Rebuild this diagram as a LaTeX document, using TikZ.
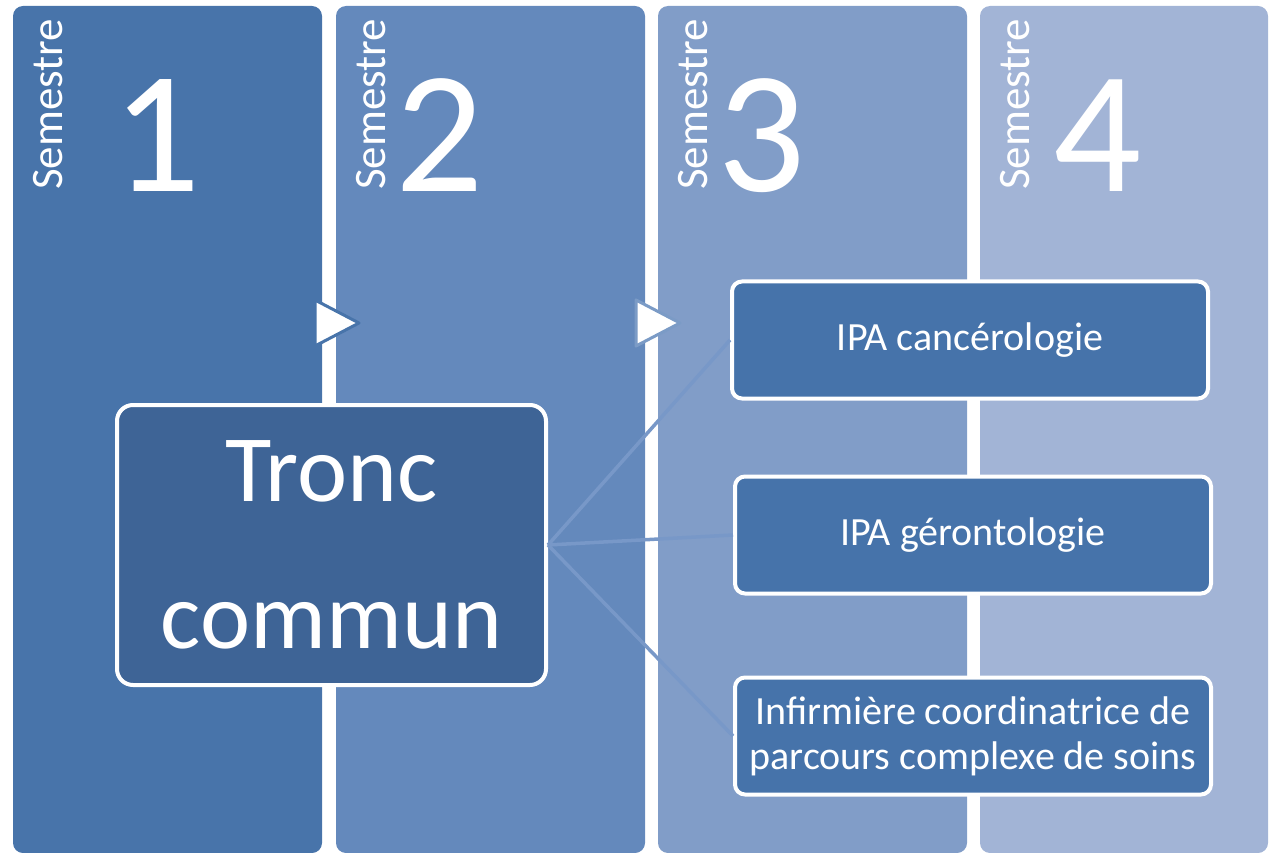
\documentclass[tikz,border=0pt]{standalone}
\usepackage{fontspec}
\setmainfont{Carlito}
\definecolor{semA}{HTML}{4874AA}
\definecolor{semB}{HTML}{6489BC}
\definecolor{semC}{HTML}{819DC8}
\definecolor{semD}{HTML}{A2B4D6}
\definecolor{troncblue}{HTML}{3E6496}
\definecolor{specblue}{HTML}{4673AA}
\definecolor{linkblue}{HTML}{7898C8}
\tikzset{
  semlabel/.style={rotate=90, anchor=base west, text=white, inner sep=0pt, font=\fontsize{45}{54}\selectfont},
  semnum/.style={anchor=base, text=white, inner sep=0pt, font=\fontsize{174}{174}\selectfont},
  tronc/.style={fill=troncblue, draw=white, line width=4pt, rounded corners=16pt, minimum width=429pt, minimum height=280pt, inner sep=0pt, align=center, text=white, font=\fontsize{95}{147}\selectfont},
  spec/.style={fill=specblue, draw=white, line width=4pt, rounded corners=10pt, minimum width=476pt, minimum height=117pt, inner sep=0pt, align=center, text=white, font=\fontsize{40}{45}\selectfont},
  link/.style={draw=linkblue, line width=3.5pt}
}
\begin{document}
\begin{tikzpicture}[x=1pt, y=-1pt, line width=0.5pt]
  \useasboundingbox (0,0) rectangle (1270,853);
  \fill[semA, rounded corners=10pt] (13,6) rectangle (322,853);
  \fill[semB, rounded corners=10pt] (336,6) rectangle (645,853);
  \fill[semC, rounded corners=10pt] (658,6) rectangle (967,853);
  \fill[semD, rounded corners=10pt] (980,6) rectangle (1268,853);
  \draw[fill=white, draw=semA, line width=3pt, line join=round] (315,300) -- (359,323) -- (315,346) -- cycle;
  \draw[fill=white, draw=semB!85!white, line width=3pt, line join=round] (636,300) -- (680,323) -- (636,346) -- cycle;
  \node[semlabel] (sem1) at (62,190) {Semestre};
  \node[semlabel] (sem2) at (385,190) {Semestre};
  \node[semlabel] (sem3) at (707,190) {Semestre};
  \node[semlabel] (sem4) at (1029,190) {Semestre};
  \node[semnum] (num1) at (157,192) {1};
  \node[semnum] (num2) at (440,192) {2};
  \node[semnum] (num3) at (762,192) {3};
  \node[semnum] (num4) at (1098,192) {4};
  \node[tronc] (tronc) at (331.5,545) {Tronc\\commun};
  \node[spec] (canc) at (970,340) {IPA cancérologie};
  \node[spec] (geron) at (973,535) {IPA gérontologie};
  \node[spec] (coord) at (973,736) {Infirmière coordinatrice de\\parcours complexe de soins};
  \draw[link] (tronc.east) -- (canc.west);
  \draw[link] (tronc.east) -- (geron.west);
  \draw[link] (tronc.east) -- (coord.west);
\end{tikzpicture}
\end{document}
